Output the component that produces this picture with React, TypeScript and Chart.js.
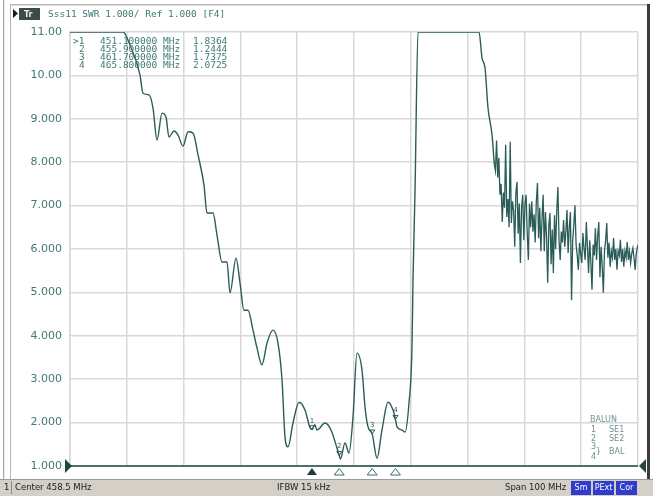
import React, { useEffect, useRef } from "react";
import { Chart, registerables } from "chart.js";

Chart.register(...registerables);

// ---- sweep data (MHz, SWR) ----
const sweepFreqA = [
  408.5, 417.83, 419.06, 420.82, 421.35, 422.41, 423.11, 423.82, 424.7, 425.4,
  425.93, 426.81, 427.51, 428.39, 429.28, 430.16, 431.04, 432.09, 432.62, 433.68,
  434.38, 435.26, 436.14, 436.67, 437.73, 438.43, 439.13, 439.84, 440.72, 441.42,
  442.3, 443.18, 444.24, 445.12, 445.83, 446.35, 446.88, 447.76, 448.82, 449.87,
  450.76, 451.1, 451.6, 451.99, 453.4, 454.45, 455.51, 455.9, 456.1, 456.92,
  457.62, 458.32, 459.03, 459.91, 460.44, 460.97, 461.7, 462.55, 463.43, 464.49,
  465.37, 465.8, 466.07, 466.95, 467.48, 468.18, 468.71, 468.89, 469.24, 469.77,
  480.51, 481.04, 481.57, 482.09, 482.8, 483.2,
];
const sweepSwrA = [
  11, 11, 10.7, 10.01, 9.59, 9.55, 9.25, 8.51, 9.13, 9.04,
  8.58, 8.72, 8.63, 8.37, 8.7, 8.67, 8.17, 7.47, 6.83, 6.83,
  6.32, 5.7, 5.7, 4.99, 5.79, 5.22, 4.59, 4.59, 4.13, 3.72,
  3.33, 3.83, 4.13, 3.83, 2.98, 1.67, 1.44, 1.99, 2.47, 2.29,
  1.88, 1.84, 1.95, 1.83, 1.99, 1.83, 1.41, 1.24, 1.16, 1.53,
  1.3, 2.13, 3.6, 3.21, 2.36, 1.9, 1.74, 1.18, 1.83, 2.47,
  2.29, 2.07, 1.9, 1.83, 1.78, 2.45, 3.74, 5.29, 7.31, 11,
  11, 10.4, 10.17, 9.25, 8.63, 7.95,
];
const sweepFreqB = [
  483.4, 483.6, 483.8, 484.0, 484.2, 484.4, 484.6, 484.8, 485.0, 485.2,
  485.4, 485.6, 485.8, 486.0, 486.2, 486.4, 486.6, 486.8, 487.0, 487.2,
  487.4, 487.6, 487.8, 488.0, 488.2, 488.4, 488.6, 488.8, 489.0, 489.2,
  489.4, 489.6, 489.8, 490.0, 490.2, 490.4, 490.6, 490.8, 491.0, 491.2,
  491.4, 491.6, 491.8, 492.0, 492.2, 492.4, 492.6, 492.8, 493.0, 493.2,
  493.4, 493.6, 493.8, 494.0, 494.2, 494.4, 494.6, 494.8, 495.0, 495.2,
  495.4, 495.6, 495.8, 496.0, 496.2, 496.4, 496.6, 496.8, 497.0, 497.2,
  497.4, 497.6, 497.8, 498.0, 498.2, 498.4, 498.6, 498.8, 499.0, 499.2,
  499.4, 499.6, 499.8, 500.0, 500.2, 500.4, 500.6, 500.8, 501.0, 501.2,
  501.4, 501.6, 501.8, 502.0, 502.2, 502.4, 502.6, 502.8, 503.0, 503.2,
  503.4, 503.6, 503.8, 504.0, 504.2, 504.4, 504.6, 504.8, 505.0, 505.2,
  505.4, 505.6, 505.8, 506.0, 506.2, 506.4, 506.6, 506.8, 507.0, 507.2,
  507.4, 507.6, 507.8, 508.0, 508.2, 508.4, 508.5,
];
const sweepSwrB = [
  7.8, 8.5, 7.65, 8.1, 7.25, 7.5, 6.62, 7.3, 6.95, 8.4,
  6.74, 7.15, 6.5, 8.47, 6.6, 7.1, 6.9, 6.05, 7.3, 7.55,
  6.35, 7.05, 5.68, 6.95, 7.25, 6.2, 7.05, 7.25, 6.35, 5.75,
  7.05, 6.5, 7.1, 6.4, 6.8, 6.15, 7.1, 7.52, 6.25, 6.95,
  5.95, 6.7, 7.25, 5.95, 6.85, 6.3, 5.22, 6.55, 6.83, 5.65,
  6.45, 5.45, 6.78, 6.0, 6.9, 7.43, 6.2, 5.75, 6.4, 6.15,
  6.67, 6.05, 6.4, 6.9, 5.91, 6.5, 6.85, 4.82, 6.2, 6.55,
  7.01, 6.1, 5.85, 5.52, 6.14, 5.9, 5.68, 6.37, 6.0, 5.75,
  6.62, 6.05, 5.45, 6.2, 5.7, 5.06, 6.1, 5.85, 6.48, 5.75,
  6.3, 6.62, 5.35, 6.05, 5.6, 4.99, 5.95, 6.2, 6.6, 5.8,
  6.15, 5.59, 5.95, 5.8, 6.25, 5.75, 6.0, 5.52, 5.95, 5.85,
  6.21, 5.7, 6.0, 5.59, 5.95, 5.8, 6.16, 5.75, 5.95, 5.68,
  5.9, 6.02, 5.8, 5.52, 5.9, 6.05, 6.1,
];

// ---- axes ----
const xGridFreq = [408.5, 418.5, 428.5, 438.5, 448.5, 458.5, 468.5, 478.5, 488.5, 498.5, 508.5];
const yTickValues = [1, 2, 3, 4, 5, 6, 7, 8, 9, 10, 11];
const yTickLabels = ["1.000", "2.000", "3.000", "4.000", "5.000", "6.000", "7.000", "8.000", "9.000", "10.00", "11.00"];
const refLevel = 1;

// ---- markers ----
const markerIds = ["1", "2", "3", "4"];
const markerFreq = [451.1, 455.9, 461.7, 465.8];
const markerSwr = [1.8364, 1.2444, 1.7375, 2.0725];
const markerFreqText = ["451.100000", "455.900000", "461.700000", "465.800000"];
const markerSwrText = ["1.8364", "1.2444", "1.7375", "2.0725"];

// ---- texts ----
const titleText = "Sss11 SWR 1.000/ Ref 1.000 [F4]";
const statusTexts = ["Center 458.5 MHz", "IFBW 15 kHz", "Span 100 MHz"];
const statusBoxes = ["Sm", "PExt", "Cor"];
const balunLines = ["BALUN", "SE1", "SE2", "BAL"];

const W = 653;
const H = 496;
const TRACE = "#2b5d58";
const TEXT = "#3f7874";
const GRID = "#d8d8d8";

function fillTri(ctx: CanvasRenderingContext2D, p: number[][], fill: string | null, stroke?: string) {
  ctx.beginPath();
  ctx.moveTo(p[0][0], p[0][1]);
  ctx.lineTo(p[1][0], p[1][1]);
  ctx.lineTo(p[2][0], p[2][1]);
  ctx.closePath();
  if (fill) {
    ctx.fillStyle = fill;
    ctx.fill();
  }
  if (stroke) {
    ctx.strokeStyle = stroke;
    ctx.lineWidth = 1;
    ctx.stroke();
  }
}

const decorPlugin = {
  id: "vnaDecor",
  beforeDraw(chart: any) {
    const ctx: CanvasRenderingContext2D = chart.ctx;
    ctx.save();
    ctx.fillStyle = "#ffffff";
    ctx.fillRect(0, 0, W, H);
    // frame
    ctx.fillStyle = "#a4a4a4";
    ctx.fillRect(3, 0, 1.2, 479);
    ctx.fillStyle = "#b8b8b8";
    ctx.fillRect(10, 4, 640, 1.5);
    ctx.fillRect(10, 4, 1, 475);
    ctx.fillStyle = "#3c3c3c";
    ctx.fillRect(647, 4, 3, 475);
    // title bar
    fillTri(ctx, [[13, 9], [18, 13.5], [13, 18]], "#1c1c1c");
    ctx.fillStyle = "#3f4b4a";
    ctx.fillRect(19, 8, 21, 12);
    ctx.fillStyle = "#e8eeee";
    ctx.font = 'bold 8px "DejaVu Sans"';
    ctx.textBaseline = "middle";
    ctx.textAlign = "left";
    ctx.fillText("Tr", 24, 14.5);
    ctx.fillStyle = TEXT;
    ctx.font = '9.5px "DejaVu Sans Mono"';
    ctx.fillText(titleText, 48, 15);
    // status bar
    ctx.fillStyle = "#d4d0c8";
    ctx.fillRect(0, 479, W, 17);
    ctx.fillStyle = "#9a9a9a";
    ctx.fillRect(0, 479, W, 1);
    ctx.fillStyle = "#8c8c8c";
    ctx.fillRect(11, 481, 1, 13);
    ctx.fillStyle = "#202020";
    ctx.font = '8.5px "DejaVu Sans"';
    ctx.fillText("1", 4, 488);
    ctx.fillText(statusTexts[0], 15, 488);
    ctx.fillText(statusTexts[1], 277, 488);
    ctx.fillText(statusTexts[2], 505, 488);
    const boxX = [571, 593, 616];
    const boxW = [20, 21, 21];
    ctx.font = '8px "DejaVu Sans"';
    ctx.textAlign = "center";
    statusBoxes.forEach((t, i) => {
      ctx.fillStyle = "#2f3ccc";
      ctx.fillRect(boxX[i], 481, boxW[i], 14);
      ctx.fillStyle = "#ffffff";
      ctx.fillText(t, boxX[i] + boxW[i] / 2, 488);
    });
    ctx.restore();
  },
  afterDatasetsDraw(chart: any) {
    const ctx: CanvasRenderingContext2D = chart.ctx;
    const xs = chart.scales.x;
    const ys = chart.scales.y;
    const { left, right } = chart.chartArea;
    ctx.save();
    // reference line
    const ry = ys.getPixelForValue(refLevel);
    ctx.strokeStyle = "#1f4743";
    ctx.lineWidth = 1.5;
    ctx.beginPath();
    ctx.moveTo(left, ry);
    ctx.lineTo(right, ry);
    ctx.stroke();
    fillTri(ctx, [[left - 5, ry - 7], [left + 2, ry], [left - 5, ry + 7]], "#1f4743");
    fillTri(ctx, [[right + 8, ry - 7], [right + 1, ry], [right + 8, ry + 7]], "#1f4743");
    // markers
    markerFreq.forEach((f, i) => {
      const px = xs.getPixelForValue(f);
      const py = ys.getPixelForValue(markerSwr[i]);
      if (i === 0) {
        fillTri(ctx, [[px, ry + 2], [px - 5, ry + 9], [px + 5, ry + 9]], "#1c3c39");
      } else {
        fillTri(ctx, [[px, ry + 2.5], [px - 5, ry + 9], [px + 5, ry + 9]], "#ffffff", "#3d6d69");
      }
      fillTri(ctx, [[px, py], [px - 2.5, py - 4], [px + 2.5, py - 4]], null, TRACE);
      ctx.fillStyle = TRACE;
      ctx.font = '7px "DejaVu Sans"';
      ctx.textAlign = "center";
      ctx.textBaseline = "middle";
      ctx.fillText(markerIds[i], px, py - 9);
    });
    // marker table
    ctx.fillStyle = TEXT;
    ctx.font = '9.5px "DejaVu Sans Mono"';
    ctx.textBaseline = "middle";
    const rowsY = [41.5, 49.5, 57.5, 65.5];
    markerIds.forEach((id, i) => {
      ctx.textAlign = "left";
      ctx.fillText(i === 0 ? ">" + id : id, i === 0 ? 73 : 79, rowsY[i]);
      ctx.fillText(markerFreqText[i], 100, rowsY[i]);
      ctx.fillText("MHz", 163, rowsY[i]);
      ctx.fillText(markerSwrText[i], 193, rowsY[i]);
    });
    // balun legend
    ctx.fillStyle = "#6f9292";
    ctx.font = '8px "DejaVu Sans"';
    ctx.textAlign = "left";
    ctx.fillText(balunLines[0], 590, 420);
    ctx.fillText("1", 591, 430);
    ctx.fillText(balunLines[1], 609, 430);
    ctx.fillText("2", 591, 439);
    ctx.fillText(balunLines[2], 609, 439);
    ctx.fillText("3", 591, 447);
    ctx.fillText("4", 591, 457);
    ctx.fillText("}", 596, 452);
    ctx.fillText(balunLines[3], 609, 452);
    ctx.restore();
  },
};

export default function App() {
  const ref = useRef<HTMLCanvasElement | null>(null);
  useEffect(() => {
    if (!ref.current) return;
    const pointsA = sweepFreqA.map((f, i) => ({ x: f, y: sweepSwrA[i] }));
    const pointsB = [
      pointsA[pointsA.length - 1],
      ...sweepFreqB.map((f, i) => ({ x: f, y: sweepSwrB[i] })),
    ];
    const chart = new Chart(ref.current, {
      type: "line",
      data: {
        datasets: [
          {
            data: pointsA,
            borderColor: TRACE,
            borderWidth: 1.4,
            pointRadius: 0,
            cubicInterpolationMode: "monotone",
            fill: false,
          },
          {
            data: pointsB,
            borderColor: TRACE,
            borderWidth: 1.3,
            pointRadius: 0,
            tension: 0,
            fill: false,
          },
        ],
      },
      options: {
        animation: false,
        responsive: false,
        devicePixelRatio: 1,
        events: [],
        layout: { padding: { left: 8, right: 15, top: 32, bottom: 0 } },
        plugins: { legend: { display: false }, tooltip: { enabled: false }, title: { display: false } },
        scales: {
          x: {
            type: "linear",
            min: xGridFreq[0],
            max: xGridFreq[xGridFreq.length - 1],
            afterBuildTicks: (s: any) => {
              s.ticks = xGridFreq.map((v) => ({ value: v }));
            },
            afterFit: (s: any) => {
              s.height = 30;
            },
            ticks: { display: false },
            grid: { color: GRID, lineWidth: 1.5, drawTicks: false },
            border: { display: false },
          },
          y: {
            type: "linear",
            min: yTickValues[0],
            max: yTickValues[yTickValues.length - 1],
            afterBuildTicks: (s: any) => {
              s.ticks = yTickValues.map((v) => ({ value: v }));
            },
            afterFit: (s: any) => {
              s.width = 62;
            },
            ticks: {
              color: TEXT,
              font: { family: "DejaVu Sans", size: 11 },
              padding: 8,
              callback: (_v: any, i: number) => yTickLabels[i],
            },
            grid: { color: GRID, lineWidth: 1.5, drawTicks: false },
            border: { display: true, color: GRID, width: 1.5 },
          },
        },
      },
      plugins: [decorPlugin],
    } as any);
    return () => chart.destroy();
  }, []);
  return (
    <div style={{ position: "fixed", left: 0, top: 0, width: W, height: H, background: "#fff" }}>
      <canvas ref={ref} width={W} height={H} style={{ width: W, height: H, display: "block" }} />
    </div>
  );
}
